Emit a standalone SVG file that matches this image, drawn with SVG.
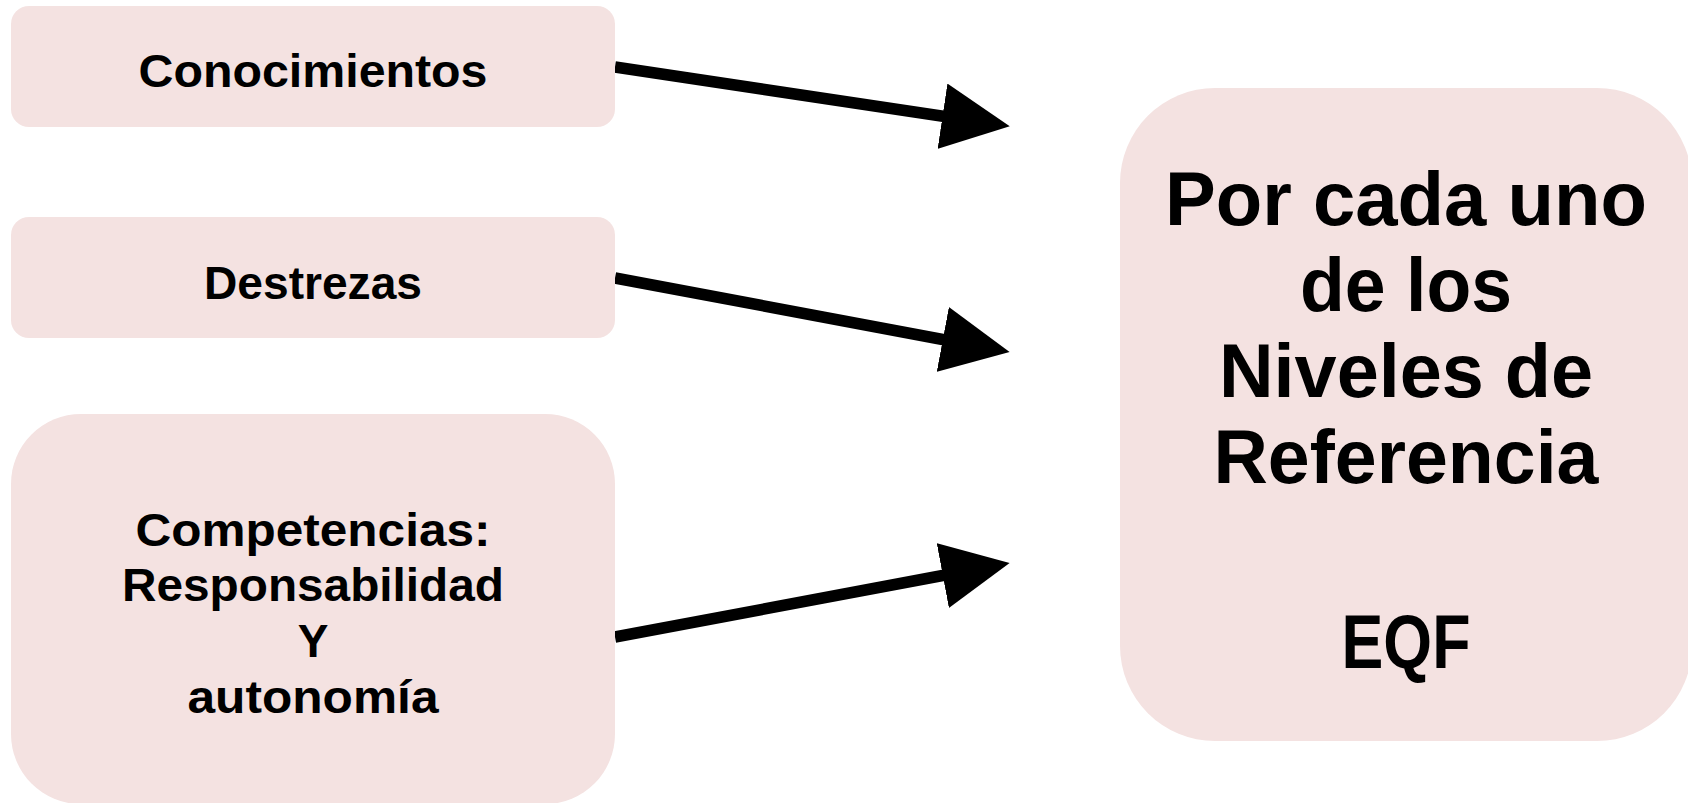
<svg xmlns="http://www.w3.org/2000/svg" width="1688" height="803" viewBox="0 0 1688 803">
<style>
.box{fill:#F4E2E1}
.t{font-family:"Liberation Sans",Arial,sans-serif;font-weight:bold;fill:#000;text-anchor:middle}
.s{font-size:46px}
.b{font-size:76px}
.c{stroke:#000;stroke-width:11.5;fill:none}
</style>
<defs>
<marker id="ah" markerUnits="userSpaceOnUse" markerWidth="68" markerHeight="66" refX="46" refY="33" orient="auto">
<path d="M0,0 L68,33 L0,66 Z" fill="#000"/>
</marker>
</defs>
<rect width="1688" height="803" fill="#fff"/>
<g id="connectors">
<line class="c" x1="615" y1="67" x2="988" y2="123" marker-end="url(#ah)"/>
<line class="c" x1="615" y1="278" x2="988" y2="348" marker-end="url(#ah)"/>
<line class="c" x1="615" y1="637" x2="988" y2="567" marker-end="url(#ah)"/>
</g>
<g id="conocimientos">
<rect class="box" x="11" y="6" width="604" height="121" rx="18"/>
<text class="t s" x="313" y="87" textLength="349" lengthAdjust="spacingAndGlyphs">Conocimientos</text>
</g>
<g id="destrezas">
<rect class="box" x="11" y="217" width="604" height="121" rx="18"/>
<text class="t s" x="313" y="299" textLength="218" lengthAdjust="spacingAndGlyphs">Destrezas</text>
</g>
<g id="competencias">
<rect class="box" x="11" y="414" width="604" height="390" rx="70"/>
<text class="t s" x="313" y="546" textLength="355" lengthAdjust="spacingAndGlyphs">Competencias:</text>
<text class="t s" x="313" y="601" textLength="382" lengthAdjust="spacingAndGlyphs">Responsabilidad</text>
<text class="t s" x="313" y="657">Y</text>
<text class="t s" x="313" y="713" textLength="251" lengthAdjust="spacingAndGlyphs">autonomía</text>
</g>
<g id="niveles">
<rect class="box" x="1120" y="88" width="572" height="653" rx="95"/>
<text class="t b" x="1406" y="225" textLength="482" lengthAdjust="spacingAndGlyphs">Por cada uno</text>
<text class="t b" x="1406" y="311" textLength="212" lengthAdjust="spacingAndGlyphs">de los</text>
<text class="t b" x="1406" y="397" textLength="374" lengthAdjust="spacingAndGlyphs">Niveles de</text>
<text class="t b" x="1406" y="483" textLength="385" lengthAdjust="spacingAndGlyphs">Referencia</text>
<text class="t b" x="1406" y="668" textLength="129" lengthAdjust="spacingAndGlyphs">EQF</text>
</g>
</svg>
